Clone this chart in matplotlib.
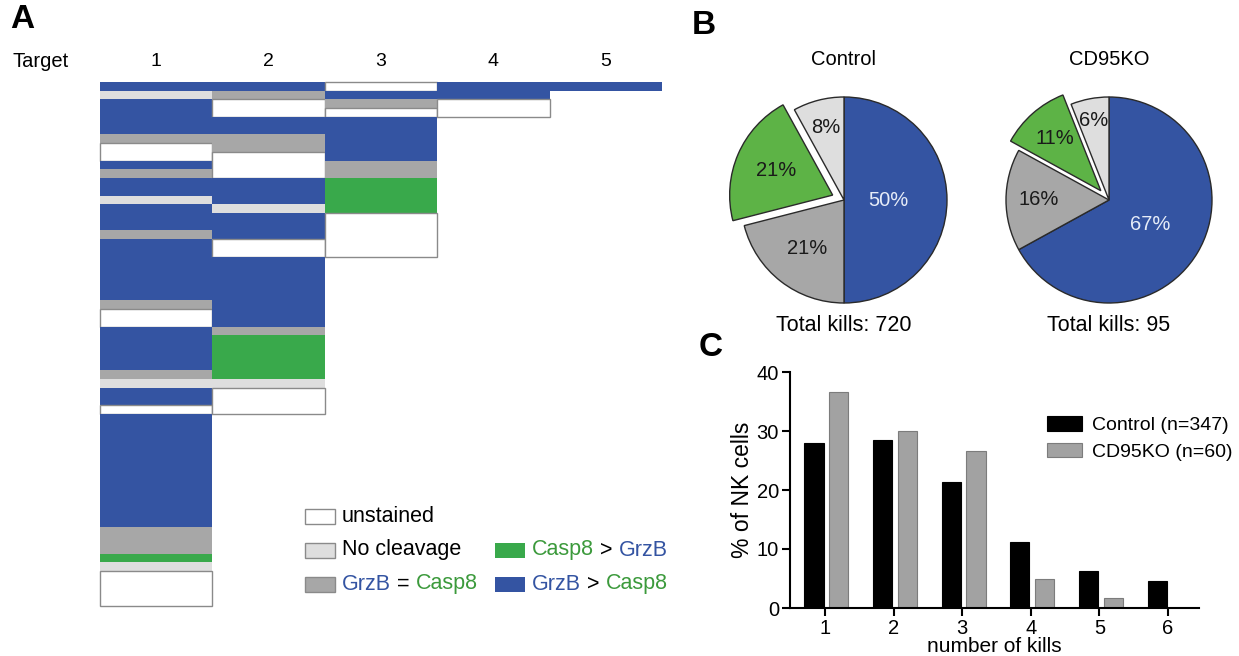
import matplotlib
matplotlib.use('Agg')
import matplotlib.pyplot as plt
from matplotlib.patches import Rectangle
import numpy as np

plt.rcParams['font.family'] = ['Liberation Sans', 'DejaVu Sans']

W, H = 1239, 656

# ---------------- colours ----------------
C_BLUE = '#3454A2'
C_GREEN = '#39A94B'
C_GRAY = '#A7A7A7'
C_LGRAY = '#DEDEDE'
C_WHITE = '#FFFFFF'
C_EDGE = '#8A8A8A'
cat_color = {'U': C_WHITE, 'N': C_LGRAY, 'E': C_GRAY, 'C': C_GREEN, 'G': C_BLUE}

# ---------------- Panel A data ----------------
# per target column: sequence (category code, number of NK-cell rows), from top
# U = unstained, N = no cleavage, E = GrzB = Casp8, C = Casp8 > GrzB, G = GrzB > Casp8
target1 = [('G', 1), ('N', 1), ('G', 4), ('E', 1), ('U', 2), ('G', 1), ('E', 1), ('G', 2),
           ('N', 1), ('G', 3), ('E', 1), ('G', 7), ('E', 1), ('U', 2), ('G', 5), ('E', 1),
           ('N', 1), ('G', 2), ('U', 1), ('G', 13), ('E', 3), ('C', 1), ('N', 1), ('U', 4)]
target2 = [('G', 1), ('E', 1), ('U', 2), ('G', 2), ('E', 2), ('U', 3), ('G', 3), ('N', 1),
           ('G', 3), ('U', 2), ('G', 8), ('E', 1), ('C', 5), ('N', 1), ('U', 3)]
target3 = [('U', 1), ('G', 1), ('E', 1), ('U', 1), ('G', 5), ('E', 2), ('C', 4), ('U', 5)]
target4 = [('G', 2), ('U', 2)]
target5 = [('G', 1)]
targets = [target1, target2, target3, target4, target5]
target_labels = ['1', '2', '3', '4', '5']

# ---------------- Panel B data ----------------
pie_groups = ['Control', 'CD95KO']
pie_totals = [720, 95]
control_pct = [50, 21, 21, 8]      # GrzB>Casp8, GrzB=Casp8, Casp8>GrzB, No cleavage
cd95ko_pct = [67, 16, 11, 6]
pie_colors = [C_BLUE, C_GRAY, '#5DB346', C_LGRAY]

# ---------------- Panel C data ----------------
kills = [1, 2, 3, 4, 5, 6]
control_kills = [27.95, 28.53, 21.33, 11.24, 6.34, 4.61]
cd95ko_kills = [36.67, 30.0, 26.67, 5.0, 1.67, 0.0]


def fbox(x0, y0, x1, y1):
    """pixel box (top-left origin) -> figure fraction [l, b, w, h]"""
    return [x0 / W, 1 - y1 / H, (x1 - x0) / W, (y1 - y0) / H]


fig = plt.figure(figsize=(W / 100, H / 100), dpi=100)

# ================= Panel A =================
axA = fig.add_axes(fbox(100, 82, 662, 606))
nrows = sum(n for _, n in target1)
for i, col in enumerate(targets):
    y0 = 0
    for code, n in col:
        if code == 'U':
            axA.bar(i + 0.5, n, bottom=y0, width=1, color=C_WHITE,
                    edgecolor=C_EDGE, linewidth=1.0, clip_on=False)
        else:
            axA.bar(i + 0.5, n, bottom=y0, width=1, color=cat_color[code],
                    edgecolor='none', linewidth=0, clip_on=False)
        y0 += n
axA.set_xlim(0, 5)
axA.set_ylim(nrows, 0)
axA.axis('off')

for i, lab in enumerate(target_labels):
    axA.text(i + 0.5, -2.3, lab, ha='center', va='center', fontsize=14)
axA.text(-0.78, -2.3, 'Target', ha='left', va='center', fontsize=14.5)

fig.text(10 / W, 1 - 20 / H, 'A', fontsize=24, fontweight='bold', ha='left', va='center')

# legend for panel A (custom coloured labels)
leg_items = [
    (305, 516, C_WHITE, [('unstained', 'black')]),
    (305, 550, C_LGRAY, [('No cleavage', 'black')]),
    (305, 584, C_GRAY, [('GrzB', C_BLUE), (' = ', 'black'), ('Casp8', '#3C9A3C')]),
    (495, 550, C_GREEN, [('Casp8', '#3C9A3C'), (' > ', 'black'), ('GrzB', C_BLUE)]),
    (495, 584, C_BLUE, [('GrzB', C_BLUE), (' > ', 'black'), ('Casp8', '#3C9A3C')]),
]
for px, py, col, parts in leg_items:
    ec = C_EDGE if col in (C_WHITE, C_LGRAY, C_GRAY) else 'none'
    fig.patches.append(Rectangle((px / W, 1 - (py + 7.5) / H), 30 / W, 15 / H,
                                 transform=fig.transFigure, facecolor=col,
                                 edgecolor=ec, linewidth=1.0))
    prev = None
    for txt, tc in parts:
        if prev is None:
            prev = fig.text((px + 37) / W, 1 - py / H, txt, color=tc, fontsize=15.5,
                            ha='left', va='center')
        else:
            prev = axA.annotate(txt, xy=(1, 0), xycoords=prev, ha='left', va='bottom',
                                color=tc, fontsize=15.5, annotation_clip=False)

# ================= Panel B =================
fig.text(692 / W, 1 - 25 / H, 'B', fontsize=24, fontweight='bold', ha='left', va='center')

pie_specs = [
    (844, control_pct, [0.43, 0.59, 0.60, 0.73], 0.12),
    (1109, cd95ko_pct, [0.47, 0.68, 0.68, 0.79], 0.12),
]
R = 103
for (cx, vals, rads, expl), name, tot in zip(pie_specs, pie_groups, pie_totals):
    ax = fig.add_axes(fbox(cx - R, 200 - R, cx + R, 200 + R))
    wedges, _ = ax.pie(vals, colors=pie_colors, startangle=90, counterclock=False,
                       explode=[0, 0, expl, 0],
                       wedgeprops=dict(edgecolor='#2A2A2A', linewidth=1.0))
    for k, (w, v, r) in enumerate(zip(wedges, vals, rads)):
        w.set_clip_on(False)
        mid = np.deg2rad((w.theta1 + w.theta2) / 2)
        cxw, cyw = w.center
        tc = '#E6ECF8' if k == 0 else '#1A1A1A'
        ax.text(cxw + r * np.cos(mid), cyw + r * np.sin(mid), f'{v}%', ha='center',
                va='center', fontsize=14.5, color=tc)
    ax.set_xlim(-1, 1)
    ax.set_ylim(-1, 1)
    ax.set_aspect('equal')
    ax.text(0, 1.36, name, ha='center', va='center', fontsize=14.5)
    ax.text(0, -1.22, f'Total kills: {tot}', ha='center', va='center', fontsize=15.5)

# ================= Panel C =================
fig.text(699 / W, 1 - 347 / H, 'C', fontsize=24, fontweight='bold', ha='left', va='center')
axC = fig.add_axes(fbox(790, 372, 1199, 608))
x = np.array(kills, dtype=float)
axC.bar(x - 0.16, control_kills, width=0.28, color='black', edgecolor='black',
        linewidth=0.8, label='Control (n=347)')
axC.bar(x + 0.20, cd95ko_kills, width=0.28, color='#A2A2A2', edgecolor='#7C7C7C',
        linewidth=0.8, label='CD95KO (n=60)')
axC.set_xlim(0.49, 6.45)
axC.set_ylim(0, 40)
axC.set_yticks([0, 10, 20, 30, 40])
axC.set_xticks(kills)
for s in ['top', 'right']:
    axC.spines[s].set_visible(False)
for s in ['left', 'bottom']:
    axC.spines[s].set_linewidth(1.5)
axC.tick_params(direction='out', length=6, width=1.5, labelsize=14.5, pad=2)
axC.set_ylabel('% of NK cells', fontsize=16.5, labelpad=2)
axC.set_xlabel('number of kills', fontsize=15, labelpad=-1)
axC.legend(loc='upper left', bbox_to_anchor=(0.628, 0.815), frameon=False, fontsize=14,
           handlelength=1.8, handleheight=0.8, handletextpad=0.5, labelspacing=0.45,
           borderaxespad=0, borderpad=0)

fig.savefig('out.png', dpi=100)
